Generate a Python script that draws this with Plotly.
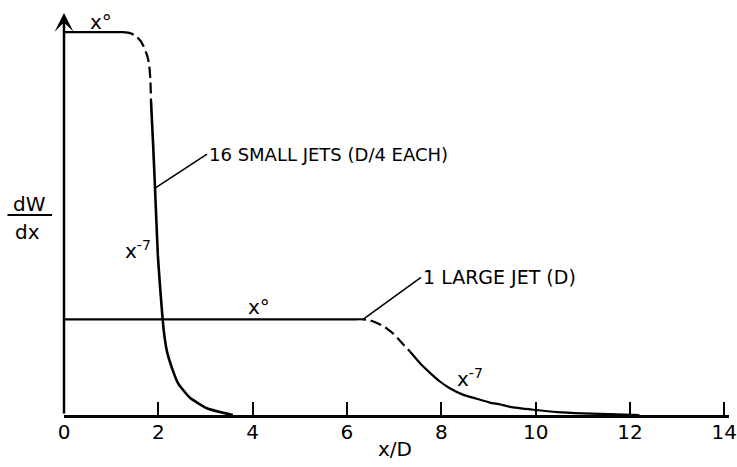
import plotly.graph_objects as go

# ---- data: x/D positions and dW/dx (arbitrary units) ----
# 16 small jets (D/4 each)
small_flat_x = [0.0, 1.25]
small_flat_y = [4.0, 4.0]
small_knee_x = [1.25, 1.40, 1.52, 1.62, 1.70, 1.76, 1.80, 1.83, 1.845]
small_knee_y = [4.00, 3.99, 3.96, 3.91, 3.84, 3.76, 3.68, 3.52, 3.28]
small_decay_x = [1.845, 1.89, 1.93, 1.99, 2.04, 2.09, 2.12, 2.18, 2.29, 2.42, 2.67, 3.03, 3.35, 3.58]
small_decay_y = [3.28, 2.82, 2.37, 1.67, 1.32, 1.01, 0.86, 0.67, 0.49, 0.33, 0.18, 0.07, 0.025, 0.0]

# 1 large jet (D)
large_flat_x = [0.0, 6.17]
large_flat_y = [1.0, 1.0]
large_knee_x = [6.17, 6.34, 6.49, 6.77, 6.98, 7.19, 7.34]
large_knee_y = [1.00, 1.00, 0.99, 0.93, 0.85, 0.74, 0.66]
large_decay_x = [7.34, 7.55, 7.76, 7.97, 8.18, 8.47, 8.75, 9.03, 9.25, 9.46, 9.95, 10.46, 11.00, 11.73, 12.20]
large_decay_y = [0.66, 0.54, 0.44, 0.35, 0.28, 0.21, 0.17, 0.13, 0.11, 0.085, 0.055, 0.03, 0.017, 0.008, 0.0]

x_ticks = [0, 2, 4, 6, 8, 10, 12, 14]
x_tick_labels = ["0", "2", "4", "6", "8", "10", "12", "14"]

small_label = "16 SMALL JETS (D/4 EACH)"
large_label = "1 LARGE JET (D)"
x_title = "x/D"

FONT = "DejaVu Sans"
INK = "black"

fig = go.Figure()


def seg(x, y, dash="solid", width=2.2):
    fig.add_trace(go.Scatter(
        x=x, y=y, mode="lines",
        line=dict(color=INK, width=width, dash=dash, shape="spline", smoothing=0.5),
        hoverinfo="skip", showlegend=False,
    ))


DASH = "11px,5px"
seg(small_flat_x, small_flat_y)
seg(small_knee_x, small_knee_y, dash=DASH)
seg(small_decay_x, small_decay_y, width=2.6)
seg(large_flat_x, large_flat_y)
seg(large_knee_x, large_knee_y, dash=DASH)
seg(large_decay_x, large_decay_y)

ann = []
txt = dict(family=FONT, size=20, color=INK)

# vertical axis drawn as an arrow
ann.append(dict(xref="x domain", yref="y domain", axref="x domain", ayref="y domain",
                x=0, y=1, ax=0, ay=0, text="", showarrow=True,
                arrowhead=3, arrowsize=1.25, arrowwidth=2.5, arrowcolor=INK))

# exponent labels
ann.append(dict(x=0.79, y=4.11, text="x°", showarrow=False, font=txt))
ann.append(dict(x=1.57, y=1.72, text="x<sup>-7</sup>", showarrow=False, font=txt))
ann.append(dict(x=4.14, y=1.13, text="x°", showarrow=False, font=txt))
ann.append(dict(x=8.61, y=0.39, text="x<sup>-7</sup>", showarrow=False, font=txt))

# curve labels with leader lines
ann.append(dict(x=small_decay_x[2], y=small_decay_y[2], ax=52, ay=-34,
                text=small_label, xanchor="left", showarrow=True, arrowhead=0,
                arrowwidth=1.6, arrowcolor=INK, font=dict(family=FONT, size=18, color=INK)))
ann.append(dict(x=large_knee_x[1], y=large_knee_y[1], ax=58, ay=-42,
                text=large_label, xanchor="left", showarrow=True, arrowhead=0,
                arrowwidth=1.6, arrowcolor=INK, font=dict(family=FONT, size=19, color=INK)))

# axis titles
ann.append(dict(x=7.02, xref="x", yref="paper", y=-0.085, text=x_title,
                showarrow=False, font=txt, yanchor="middle"))
ann.append(dict(xref="paper", yref="paper", x=-0.0526, y=0.524, text="dW",
                showarrow=False, font=txt, xanchor="center", yanchor="middle"))
ann.append(dict(xref="paper", yref="paper", x=-0.0556, y=0.456, text="dx",
                showarrow=False, font=txt, xanchor="center", yanchor="middle"))

fig.update_layout(
    width=737, height=467,
    margin=dict(l=64, r=8, t=13, b=52),
    paper_bgcolor="white", plot_bgcolor="white",
    annotations=ann,
    shapes=[dict(type="line", xref="paper", yref="paper",
                 x0=-0.085, x1=-0.018, y0=0.4975, y1=0.4975,
                 line=dict(color=INK, width=2))],
    xaxis=dict(range=[0, 14.1], showgrid=False, zeroline=False, automargin=False,
               showline=True, linecolor=INK, linewidth=2.5,
               ticks="inside", ticklen=13, tickwidth=2, tickcolor=INK,
               tickvals=x_ticks, ticktext=x_tick_labels,
               tickfont=dict(family=FONT, size=20, color=INK),
               ticklabelstandoff=-3, ticklabeloverflow="allow"),
    yaxis=dict(range=[0, 4.2], showgrid=False, zeroline=False, automargin=False,
               showline=False, showticklabels=False, ticks=""),
)

fig.write_html("out.html")
